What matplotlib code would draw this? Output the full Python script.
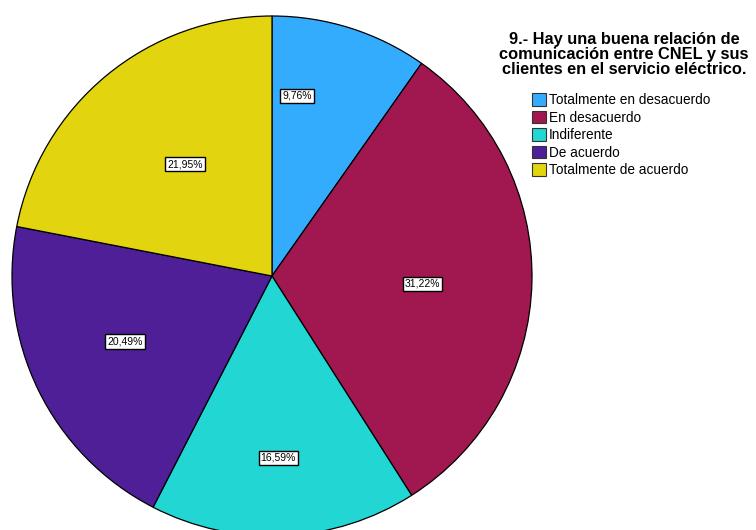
import matplotlib.pyplot as plt
import matplotlib.patches as mpatches
import numpy as np

# Datos (n = 205)
categorias = ["Totalmente en desacuerdo", "En desacuerdo", "Indiferente",
              "De acuerdo", "Totalmente de acuerdo"]
frecuencias = [20, 64, 34, 42, 45]
etiquetas = ["9,76%", "31,22%", "16,59%", "20,49%", "21,95%"]
titulo = "9.- Hay una buena relación de\ncomunicación entre CNEL y sus\nclientes en el servicio eléctrico."

colores = ["#33acfe", "#a1174f", "#21d6d3", "#4e1f96", "#e2d50f"]

# posición de etiquetas: (ángulo desde arriba en sentido horario, fracción del radio)
pos_etiquetas = [(8, 0.70), (93, 0.58), (178, 0.70), (246, 0.62), (322, 0.545)]

plt.rcParams['font.family'] = ['Liberation Sans', 'DejaVu Sans']

fig = plt.figure(figsize=(7.56, 5.30), dpi=100)
ax = fig.add_axes([0, 0, 1, 1])

cx, cy, r = 272, 254, 260
ax.pie(frecuencias, colors=colores, startangle=90, counterclock=False,
       center=(cx, cy), radius=r, frame=True,
       wedgeprops=dict(edgecolor="black", linewidth=0.9))
ax.set_xlim(0, 756)
ax.set_ylim(0, 530)
ax.set_aspect("auto")
ax.axis("off")

for txt, (ang, frac) in zip(etiquetas, pos_etiquetas):
    a = np.deg2rad(ang)
    x = cx + frac * r * np.sin(a)
    y = cy + frac * r * np.cos(a)
    ax.text(x, y, txt, ha="center", va="center", fontsize=7.5,
            bbox=dict(boxstyle="square,pad=0.2", facecolor="white",
                      edgecolor="black", linewidth=1))

ax.text(624, 498, titulo, ha="center", va="top", fontsize=11.8,
        fontweight="bold", linespacing=0.98)

handles = [mpatches.Patch(facecolor=c, edgecolor="#333333", linewidth=0.8)
           for c in colores]
ax.legend(handles, categorias, loc="upper left", bbox_to_anchor=(532, 437),
          bbox_transform=ax.transData, frameon=False, fontsize=9.8,
          handlelength=1.05, handleheight=1.05, handletextpad=0.2,
          labelspacing=0.26, borderaxespad=0, borderpad=0)

fig.savefig("out.png", dpi=100)
